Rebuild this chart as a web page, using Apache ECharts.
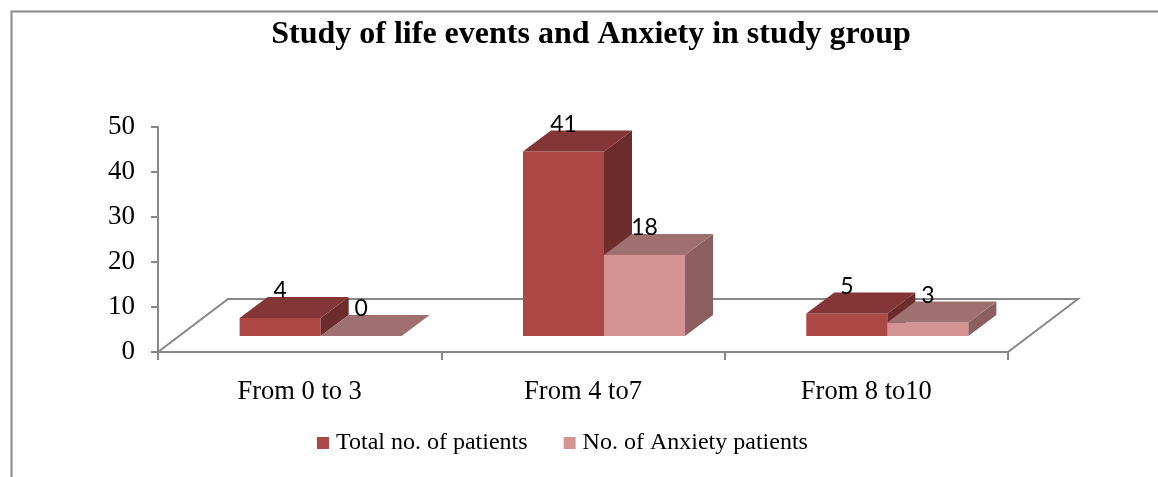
<!DOCTYPE html>
<html>
<head>
<meta charset="utf-8">
<script src="https://cdn.jsdelivr.net/npm/echarts@6/dist/echarts.min.js"></script>
<style>
html,body{margin:0;padding:0;background:#fff;}
#chart{width:1158px;height:477px;}
</style>
</head>
<body>
<div id="chart"></div>
<script>
// ---- data ----
var categories = ['From 0 to 3', 'From 4 to7', 'From 8 to10'];
var seriesNames = ['Total no. of patients', 'No. of Anxiety patients'];
var totalPatients = [4, 41, 5];
var anxietyPatients = [0, 18, 3];
var yTicks = [0, 10, 20, 30, 40, 50];

// ---- styles ----
var DEPTH_DX = 70, DEPTH_DY = -53;     // floor depth (px)
var BAR_OFF = 0.3, BAR_DEPTH = 0.4;    // bar position within floor depth
var BAR_FRAC = 0.286;                  // bar width as fraction of band
var palettes = [
  {front: '#AB4745', top: '#843536', side: '#6D2C2C'},
  {front: '#D59494', top: '#A07070', side: '#8B5F5F'}
];
var AXIS_GRAY = '#878787';

var chart = echarts.init(document.getElementById('chart'));

function floorRender(params, api) {
  var cs = params.coordSys;
  var p0 = api.coord([0, 0]);
  var y0 = p0[1];
  var x0 = cs.x, x1 = cs.x + cs.width;
  return {
    type: 'polyline',
    shape: {points: [[x0, y0], [x0 + DEPTH_DX, y0 + DEPTH_DY], [x1 + DEPTH_DX, y0 + DEPTH_DY], [x1, y0]]},
    style: {stroke: AXIS_GRAY, lineWidth: 2, fill: null}
  };
}

function makeBarRender(si) {
  var pal = palettes[si];
  return function (params, api) {
    var ci = api.value(0), v = api.value(1);
    var band = api.size([1, 0])[0];
    var barW = band * BAR_FRAC;
    var p0 = api.coord([ci, 0]);
    var p1 = api.coord([ci, v]);
    var ox = DEPTH_DX * BAR_OFF, oy = DEPTH_DY * BAR_OFF;
    var dx = DEPTH_DX * BAR_DEPTH, dy = DEPTH_DY * BAR_DEPTH;
    var left = p0[0] + ox + (si === 0 ? -barW : 0);
    var right = left + barW;
    var bottom = p0[1] + oy, top = p1[1] + oy;
    var children = [];
    if (bottom - top > 0.5) {
      children.push({type: 'rect', shape: {x: left, y: top, width: barW, height: bottom - top},
        style: {fill: pal.front}});
      children.push({type: 'polygon', shape: {points: [[right, top], [right + dx, top + dy], [right + dx, bottom + dy], [right, bottom]]},
        style: {fill: pal.side}});
    }
    children.push({type: 'polygon', shape: {points: [[left, top], [right, top], [right + dx, top + dy], [left + dx, top + dy]]},
      style: {fill: pal.top}});
    children.push({type: 'text', x: left + barW / 2, y: top + dy - 6,
      style: {text: String(v), fill: '#000', font: '23px Lato', align: 'center', verticalAlign: 'middle'}});
    return {type: 'group', children: children};
  };
}

function toData(arr) { return arr.map(function (v, i) { return [i, v]; }); }

var option = {
  animation: false,
  backgroundColor: '#fff',
  title: {
    text: 'Study of life events and Anxiety in study group',
    left: 586, top: 14, textAlign: 'center',
    textStyle: {fontFamily: 'Liberation Serif', fontWeight: 'bold', fontSize: 32, color: '#000'}
  },
  graphic: [{
    type: 'rect', left: 9, top: 9, shape: {width: 1200, height: 520},
    style: {fill: null, stroke: AXIS_GRAY, lineWidth: 2}, silent: true
  }],
  legend: {
    left: 312, top: 426,
    itemWidth: 12, itemHeight: 12, itemGap: 36, icon: 'rect',
    textStyle: {fontFamily: 'Liberation Serif', fontSize: 24, color: '#000', padding: [0, 0, 0, 2]},
    data: seriesNames
  },
  grid: {left: 158, right: 150, top: 127, bottom: 125},
  xAxis: {
    type: 'category', data: categories, boundaryGap: true,
    axisLine: {lineStyle: {color: AXIS_GRAY, width: 2}},
    axisTick: {show: true, length: 8, interval: 0, lineStyle: {color: AXIS_GRAY, width: 2}},
    axisLabel: {fontFamily: 'Liberation Serif', fontSize: 26.5, color: '#000', margin: 27, interval: 0}
  },
  yAxis: {
    type: 'value', min: yTicks[0], max: yTicks[yTicks.length - 1], interval: yTicks[1] - yTicks[0],
    axisLine: {show: true, lineStyle: {color: AXIS_GRAY, width: 2}},
    axisTick: {show: true, length: 7, lineStyle: {color: AXIS_GRAY, width: 2}},
    splitLine: {show: false},
    axisLabel: {fontFamily: 'Liberation Serif', fontSize: 27, color: '#000', margin: 23}
  },
  series: [
    {name: '_floor', type: 'custom', renderItem: floorRender, data: [[0, 0]], z: 1, silent: true},
    {name: seriesNames[0], type: 'custom', renderItem: makeBarRender(0), data: toData(totalPatients),
      itemStyle: {color: palettes[0].front}, z: 2},
    {name: seriesNames[1], type: 'custom', renderItem: makeBarRender(1), data: toData(anxietyPatients),
      itemStyle: {color: palettes[1].front}, z: 3}
  ]
};
chart.setOption(option);
</script>
</body>
</html>
